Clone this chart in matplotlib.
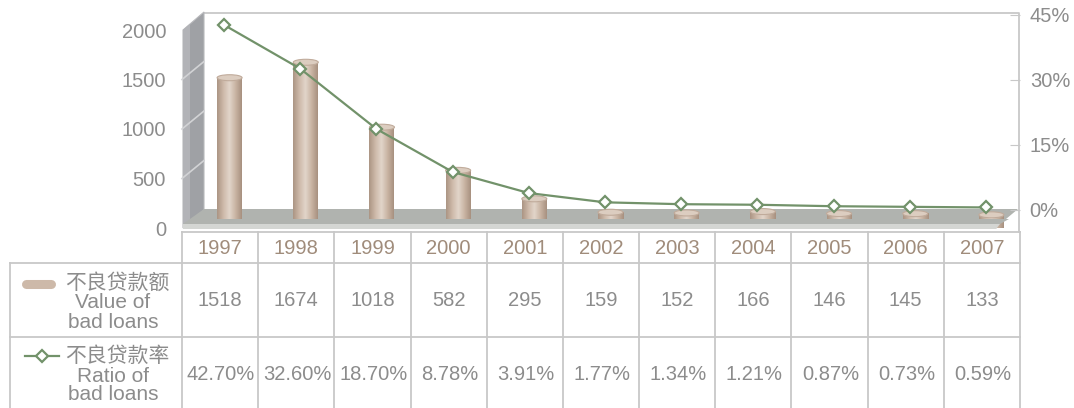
import numpy as np
import matplotlib
matplotlib.use("Agg")
import matplotlib.pyplot as plt
from matplotlib.patches import Polygon, Ellipse
from matplotlib.lines import Line2D
from matplotlib.transforms import Affine2D
from matplotlib.colors import LinearSegmentedColormap

# data
years = ["1997", "1998", "1999", "2000", "2001", "2002", "2003", "2004", "2005", "2006", "2007"]
bad_loans = [1518, 1674, 1018, 582, 295, 159, 152, 166, 146, 145, 133]
bad_ratio = [42.70, 32.60, 18.70, 8.78, 3.91, 1.77, 1.34, 1.21, 0.87, 0.73, 0.59]
left_ticks = [0, 500, 1000, 1500, 2000]
right_ticks = [0, 15, 30, 45]
row_cn = ["不良贷款额", "不良贷款率"]
row_en = [["Value of", "bad loans"], ["Ratio of", "bad loans"]]

W, H = 1074, 408
TEXT = "#8C8C8C"
YEAR = "#A08C7B"
GRID = "#C8C8C8"
GREEN = "#72926A"
WALL = "#9FA1A5"
FLOOR = "#B0B3AF"
FLOOR_EDGE = "#D4D6D3"
TAN = "#CDB9A9"
NUM = "Liberation Sans"
CJK = "Noto Sans CJK SC"
FS = 14.5

plt.rcParams["font.family"] = [NUM, CJK]

fig = plt.figure(figsize=(W / 100, H / 100), dpi=100)
fig.patch.set_facecolor("white")
# figure pixel coords, y measured from the top
PX = Affine2D().scale(1 / W, -1 / H).translate(0, 1) + fig.transFigure

X0, X1 = 182, 1020
Y_TOP, Y_FRONT = 14, 228
DX, DY = 22, 18          # 3d depth offset in px
colw = (X1 - X0) / len(years)

ax = fig.add_axes([X0 / W, 1 - Y_FRONT / H, (X1 - X0) / W, (Y_FRONT - Y_TOP) / H])
ax.set_facecolor("none")
n = len(years)
vpp = 500 / 49.5  # values per pixel on the left axis

# back plane, wall and floor
ax.add_patch(Polygon([(X0 + DX, Y_TOP - 1), (X1 - 2, Y_TOP - 1), (X1 - 2, 210), (X0 + DX, 210)],
                     closed=True, fc="white", ec="none", transform=PX, zorder=0, clip_on=False))
ax.add_line(Line2D([X0 + DX, X1 - 1, X1 - 1], [Y_TOP - 1, Y_TOP - 1, 232], color=GRID, lw=1.3,
                   transform=PX, zorder=0.5, clip_on=False))
ax.add_patch(Polygon([(X0 + 1, Y_TOP + 16), (X0 + DX, Y_TOP - 2), (X0 + DX, 210), (X0 + 1, Y_FRONT)],
                     closed=True, fc=WALL, ec="#B8B9BC", lw=0.8, transform=PX, zorder=0.6, clip_on=False))
ax.add_patch(Polygon([(X0 + 1, Y_TOP + 16), (X0 + 8, Y_TOP + 10), (X0 + 8, Y_FRONT - 6), (X0 + 1, Y_FRONT)],
                     closed=True, fc="#B2B3B7", ec="none", transform=PX, zorder=0.65, clip_on=False))
wall_dx = DX / colw
for v in left_ticks[1:-1]:
    ax.plot([-0.5, -0.5 + wall_dx], [v, v + DY * vpp], color="#D2D3D5", lw=1.2, zorder=0.7,
            clip_on=False)

floor = [(X0 + 1, 224), (X0 + DX, 209), (X1 - 2, 209), (X1 - 2 - DX + 4, 224)]
ax.add_patch(Polygon(floor, closed=True, fc=FLOOR, ec="none", transform=PX, zorder=0.8, clip_on=False))
edge = [(X0 + 1, 224), (X1 - DX + 2, 224), (X1 - DX - 2, 229), (X0 + 1, 229)]
ax.add_patch(Polygon(edge, closed=True, fc=FLOOR_EDGE, ec="none", transform=PX, zorder=0.8, clip_on=False))
# front half of the floor covers the bar feet
front = [(X0 + 1, 224), (X0 + DX / 2, 219), (X1 - DX / 2, 219), (X1 - DX + 2, 224)]
ax.add_patch(Polygon(front, closed=True, fc=FLOOR, ec="none", transform=PX, zorder=3, clip_on=False))
ax.add_patch(Polygon(edge, closed=True, fc=FLOOR_EDGE, ec="none", transform=PX, zorder=3, clip_on=False))

# cylinder bars
cyl = LinearSegmentedColormap.from_list("cyl", ["#AC9584", "#CDB9A9", "#E2D5CA", "#C9B4A3", "#A89180"])
grad = np.linspace(0, 1, 64)[None, :]
bw = 25 / colw
xb = np.arange(n) + 9.5 / colw
for x, v in zip(xb, bad_loans):
    ax.imshow(grad, extent=(x - bw / 2, x + bw / 2, 0, v), cmap=cyl, aspect="auto",
              zorder=2, interpolation="bilinear")
    ax.add_patch(Ellipse((x, v), bw, 6 * vpp, fc="#DCCDC0", ec="#C0AB9B", lw=0.8, zorder=2.5))

ax.set_xlim(-0.5, n - 0.5)
ax.set_ylim(0, (Y_FRONT - Y_TOP) * vpp)
ax.set_xticks([])
ax.set_yticks(left_ticks)
ax.set_yticklabels([str(t) for t in left_ticks], fontsize=FS, color=TEXT)
ax.tick_params(axis="y", length=0, pad=11.5)
for s in ax.spines.values():
    s.set_visible(False)

# ratio line on the right axis
ax2 = ax.twinx()
ax2.plot(np.arange(n) + 4 / colw, bad_ratio, color=GREEN, lw=1.6, marker="D", ms=6.5,
         mfc="white", mec=GREEN, mew=1.6, zorder=5, clip_on=False)
ax2.set_ylim(-4.154, 45.23)
ax2.set_yticks(right_ticks)
ax2.set_yticklabels([f"{t}%" for t in right_ticks], fontsize=FS, color=TEXT)
ax2.tick_params(axis="y", direction="in", length=7, color=GRID, pad=7)
for s in ax2.spines.values():
    s.set_visible(False)

# data table
def hline(y, x0, x1):
    fig.add_artist(Line2D([x0, x1], [y, y], color=GRID, lw=1.3, transform=PX))

def vline(x, y0, y1):
    fig.add_artist(Line2D([x, x], [y0, y1], color=GRID, lw=1.3, transform=PX))

hline(232, X0, X1)
hline(263, 10, X1)
hline(337, 10, X1)
vline(10, 263, H)
for k in range(n + 1):
    vline(X0 + k * colw, 232, H)

for i in range(n):
    cx = X0 + (i + 0.5) * colw
    fig.text(cx, 248, years[i], transform=PX, ha="center", va="center", fontsize=FS, color=YEAR)
    fig.text(cx, 301, str(bad_loans[i]), transform=PX, ha="center", va="center", fontsize=FS,
             color=TEXT)
    fig.text(cx + 1, 374, f"{bad_ratio[i]:.2f}%", transform=PX, ha="center", va="center",
             fontsize=FS, color=TEXT)

# row headers with legend keys
fig.add_artist(Line2D([26, 51], [283.5, 283.5], lw=6.5, color=TAN, solid_capstyle="round",
                      transform=PX))
fig.add_artist(Line2D([25, 59], [356, 356], lw=1.6, color=GREEN, transform=PX))
fig.add_artist(Line2D([42], [356], marker="D", ms=6.5, mfc="white", mec=GREEN, mew=1.6,
                      transform=PX))
for r, yc in enumerate([283, 356]):
    fig.text(117, yc, row_cn[r], transform=PX, ha="center", va="center", fontsize=15,
             family=CJK, color=TEXT)
    fig.text(113, yc + 20, row_en[r][0], transform=PX, ha="center", va="center", fontsize=15,
             color=TEXT)
    fig.text(113, yc + 39, row_en[r][1], transform=PX, ha="center", va="center", fontsize=15,
             color=TEXT)

fig.savefig("out.png", dpi=100)
